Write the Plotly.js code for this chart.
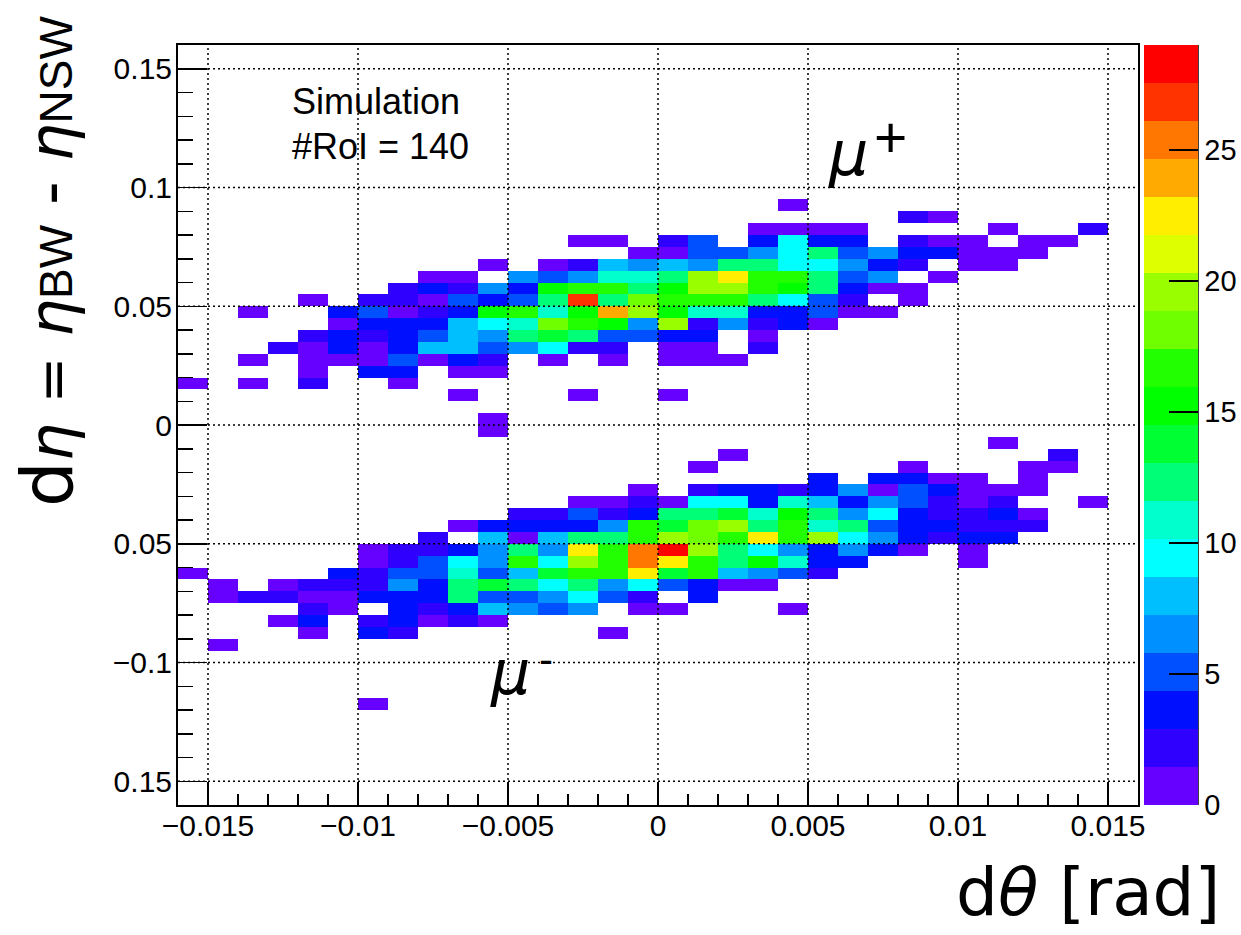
<!DOCTYPE html>
<html>
<head>
<meta charset="utf-8">
<script src="https://cdn.plot.ly/plotly-3.0.1.min.js"></script>
<style>html,body{margin:0;padding:0;background:#fff}</style>
</head>
<body>
<div id="chart" style="width:1241px;height:935px"></div>
<script>
// Histogram binning
const xBinStart = -0.016, xBinWidth = 0.001, xBinCount = 32;
const yBinStart = -0.16, yBinWidth = 0.005, yBinCount = 64;

// Occupied rows: lower bin edge in units of yBinWidth -> {column index: count}
const rowsMuPlus = {
  18:{20:1},
  17:{24:2,25:1},
  16:{19:1,20:1,21:1,22:1,27:1,30:2},
  15:{13:1,14:1,16:2,17:5,19:4,20:10,21:4,22:4,24:2,25:1,26:1,28:1,29:1},
  14:{15:1,16:1,17:5,18:5,19:7,20:10,21:13,22:5,23:7,24:4,25:4,26:1,27:1,28:1},
  13:{10:1,12:1,13:2,14:8,15:7,16:8,17:7,18:13,19:13,20:10,21:10,22:7,23:4,24:2,26:1,27:1},
  12:{8:1,9:1,11:7,12:5,13:7,14:11,15:11,16:13,17:20,18:23,19:17,20:17,21:13,22:5,23:7,25:1},
  11:{7:2,8:4,9:2,10:7,11:4,12:15,13:17,14:17,15:13,16:15,17:20,18:20,19:17,20:15,21:13,22:4,23:1,24:1},
  10:{4:1,6:2,7:2,8:1,9:5,10:4,11:5,12:13,13:27,14:13,15:18,16:17,17:17,18:17,19:13,20:10,21:5,22:2,24:1},
  9:{2:1,5:4,6:5,7:1,8:2,9:4,10:15,11:17,12:11,13:15,14:24,15:20,16:15,17:11,18:11,19:4,20:4,21:5,22:1,23:1},
  8:{5:1,6:4,7:4,8:4,9:8,10:10,11:11,12:18,13:17,14:15,15:7,16:20,17:2,18:7,19:2,20:4,21:1},
  7:{4:2,5:4,6:2,7:4,8:5,9:8,10:7,11:13,12:14,13:13,14:5,15:5,16:4,17:4,19:1},
  6:{3:2,4:1,5:4,6:1,7:4,8:8,9:8,10:5,11:7,12:10,13:2,14:2,16:1,17:1,19:2},
  5:{2:1,4:1,5:1,6:1,7:5,8:1,9:4,10:2,12:1,14:1,16:1,17:1,18:1},
  4:{4:1,6:4,7:4,9:1,10:1},
  3:{0:1,2:1,4:2,7:1},
  2:{9:1,13:1,16:1},
  0:{10:1}
};
const rowsMuMinus = {
  "-1":{10:1},
  "-2":{27:1},
  "-3":{18:1,29:2},
  "-4":{17:1,24:1,28:1,29:1},
  "-5":{21:4,23:4,24:4,25:1,26:1,28:1},
  "-6":{15:1,17:2,18:4,19:4,20:2,21:4,22:7,23:1,24:5,25:4,26:1,27:1,28:1},
  "-7":{13:1,14:1,15:2,16:1,17:10,18:10,19:4,20:11,21:8,22:4,23:7,24:5,25:2,26:1,27:2,30:1},
  "-8":{11:2,12:2,13:5,14:2,15:4,16:13,17:13,18:14,19:11,20:15,21:13,22:7,23:10,24:4,25:2,26:2,27:4,28:1},
  "-9":{9:1,10:4,11:4,12:4,13:4,14:7,15:17,16:14,17:18,18:20,19:13,20:17,21:11,22:13,23:5,24:4,25:4,26:2,27:2,28:2},
  "-10":{8:2,10:8,11:1,12:8,13:13,14:13,15:17,16:20,17:18,18:17,19:23,20:17,21:20,22:10,23:7,24:4,25:2,26:4,27:4},
  "-11":{6:1,7:2,8:2,9:4,10:7,11:13,12:7,13:23,14:17,15:26,16:29,17:20,18:13,19:10,20:7,21:4,22:7,23:4,24:1,26:1},
  "-12":{6:1,7:2,8:5,9:10,10:7,11:17,12:10,13:20,14:17,15:26,16:23,17:17,18:13,19:15,20:11,21:4,22:4,26:1},
  "-13":{0:1,5:4,6:2,7:5,8:5,9:11,10:5,11:8,12:14,13:17,14:17,15:23,16:14,17:17,18:8,19:7,20:5,21:2},
  "-14":{1:1,3:1,4:2,5:2,6:2,7:7,8:4,9:13,10:14,11:13,12:10,13:13,14:7,15:10,16:5,17:4,18:1,19:1},
  "-15":{1:1,2:2,3:2,4:1,5:1,6:4,7:4,8:4,9:13,10:5,11:5,12:7,13:10,14:5,15:2,17:4},
  "-16":{4:2,5:1,7:4,8:2,9:4,10:8,11:7,12:5,13:7,15:1,16:1,20:1},
  "-17":{3:1,4:4,6:2,7:4,8:1,9:2,10:1},
  "-18":{4:1,6:4,7:2,14:1},
  "-19":{1:1},
  "-24":{6:1}
};

// Axes
const xTickVals = [-0.015,-0.01,-0.005,0,0.005,0.01,0.015];
const xTickText = ["−0.015","−0.01","−0.005","0","0.005","0.01","0.015"];
const yTickVals = [0.15,0.1,0.05,0,-0.05,-0.1,-0.15];
const yTickText = ["0.15","0.1","0.05","0","0.05","−0.1","0.15"];
const cbTickVals = [0,5,10,15,20,25];
const zMax = 29;

// ROOT rainbow palette, 20 contour bands, low to high
const bandColors = ["#6600ff","#3000ff","#0010ff","#0050ff","#0090ff","#00bfff","#00ffff","#00ffcc",
  "#00ff77","#00ff33","#00ff00","#22ff00","#70ff00","#99ff00","#ddff00","#ffee00","#ffaa00","#ff7700","#ff3300","#ff0000"];

// Frame geometry, in page pixels
const L = 178, R = 1138, T = 45, B = 805, W = 1241, H = 935;
const px = x => (x - L) / (R - L);
const py = y => (B - y) / (B - T);

const z = [];
for (let i = 0; i < yBinCount; i++) {
  const key = i + Math.round(yBinStart / yBinWidth);
  const row = rowsMuPlus[key] || rowsMuMinus[key] || {};
  const r = [];
  for (let c = 0; c < xBinCount; c++) r.push(row[c] === undefined ? null : row[c]);
  z.push(r);
}
const colorscale = [];
bandColors.forEach((c, i) => {
  colorscale.push([i / bandColors.length, c]);
  colorscale.push([(i + 1) / bandColors.length, c]);
});

const trace = {
  type: 'heatmap',
  z: z,
  x0: xBinStart + xBinWidth / 2, dx: xBinWidth,
  y0: yBinStart + yBinWidth / 2, dy: yBinWidth,
  zmin: 0, zmax: zMax, zsmooth: false,
  colorscale: colorscale,
  hoverongaps: false,
  colorbar: {
    x: px(1144), xanchor: 'left', xpad: 0, ypad: 0,
    y: 0.5, yanchor: 'middle', len: 1, lenmode: 'fraction',
    thickness: 54, thicknessmode: 'pixels',
    outlinewidth: 0, borderwidth: 0,
    tickmode: 'array', tickvals: cbTickVals, ticktext: cbTickVals.map(String),
    ticks: 'inside', ticklen: 29, tickwidth: 1.5, tickcolor: '#000',
    tickfont: {family: 'Liberation Sans', size: 29, color: '#000'}
  }
};

const gridLine = {color: '#000', width: 1.5, dash: '2px,3px'};
const shapes = [];
xTickVals.forEach(v => shapes.push({type:'line', layer:'above', xref:'x', yref:'paper', x0:v, x1:v, y0:0, y1:1, line:gridLine}));
yTickVals.forEach(v => shapes.push({type:'line', layer:'above', xref:'paper', yref:'y', x0:0, x1:1, y0:v, y1:v, line:gridLine}));
shapes.push({type:'line', layer:'above', xref:'paper', yref:'paper', x0:px(1198), x1:px(1198), y0:0, y1:1, line:{color:'#000', width:1.5}});

const sans = 'Liberation Sans';
const big = 'DejaVu Sans';
const sized = (s, size) => "<span style='font-size:" + size + "px'>" + s + "</span>";
const eta = "<i>" + sized('η', 60) + "</i>";
const subText = s => "<span style='font-family:Liberation Sans;font-size:46px'>" + s + "</span>";
const gap = sized(' ', 62);
const note = (text, x, y, size, family, anchor, extra) => Object.assign({
  text, xref:'paper', yref:'paper', x:px(x), y:py(y), xanchor:anchor, yanchor:'middle',
  showarrow:false, font:{family, size, color:'#000'}
}, extra || {});

const layout = {
  width: W, height: H,
  margin: {l: L, r: W - R, t: T, b: H - B, pad: 0, autoexpand: false},
  paper_bgcolor: '#fff', plot_bgcolor: '#fff',
  showlegend: false,
  xaxis: {
    range: [-0.016, 0.016], showgrid: false, zeroline: false,
    showline: true, linecolor: '#000', linewidth: 2, mirror: true,
    tickmode: 'array', tickvals: xTickVals, ticktext: xTickText,
    ticks: 'inside', ticklen: 23, tickwidth: 1.5, tickcolor: '#000', ticklabelstandoff: -7,
    tickfont: {family: sans, size: 30, color: '#000'},
    minor: {ticks: 'inside', ticklen: 11.5, tickwidth: 1.5, tickcolor: '#000', tickmode: 'linear', tick0: 0, dtick: 0.001, showgrid: false}
  },
  yaxis: {
    range: [-0.16, 0.16], showgrid: false, zeroline: false,
    showline: true, linecolor: '#000', linewidth: 2, mirror: true,
    tickmode: 'array', tickvals: yTickVals, ticktext: yTickText,
    ticks: 'inside', ticklen: 29, tickwidth: 1.5, tickcolor: '#000', ticklabelstandoff: -2,
    tickfont: {family: sans, size: 30, color: '#000'},
    minor: {ticks: 'inside', ticklen: 14.5, tickwidth: 1.5, tickcolor: '#000', tickmode: 'linear', tick0: 0, dtick: 0.01, showgrid: false}
  },
  shapes: shapes,
  annotations: [
    note('Simulation', 290, 102, 36, sans, 'left'),
    note('#RoI = 140', 290, 146, 36, sans, 'left'),
    note('<i>μ</i>', 826, 153, 62, big, 'left'),
    note('+', 872, 137, 57, sans, 'left'),
    note('<i>μ</i>', 488, 672, 62, big, 'left'),
    note('-', 537, 659, 42, sans, 'left'),
    note('d<i>θ</i> [rad]', 1222, 892, 66, big, 'right'),
    note(sized('d', 72) + eta + gap + sized('=', 56) + gap + eta + subText('BW') + gap + sized('-', 66) + gap + eta + subText('NSW'),
      47, 262, 64, big, 'center', {textangle: -90})
  ]
};

Plotly.newPlot('chart', [trace], layout, {staticPlot: true, displayModeBar: false});
</script>
</body>
</html>
